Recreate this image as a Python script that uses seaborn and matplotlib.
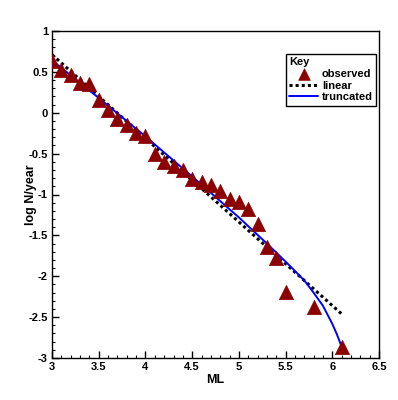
import matplotlib
matplotlib.use("Agg")
import matplotlib.pyplot as plt
import seaborn as sns
import pandas as pd
from matplotlib.ticker import MultipleLocator, FormatStrFormatter

# observed rates
obs_ml = [3.0, 3.1, 3.2, 3.3, 3.4, 3.5, 3.6, 3.7, 3.8, 3.9, 4.0, 4.1, 4.2, 4.3,
          4.4, 4.5, 4.6, 4.7, 4.8, 4.9, 5.0, 5.1, 5.2, 5.3, 5.4, 5.5, 5.8, 6.1]
obs_logn = [0.63, 0.52, 0.46, 0.37, 0.35, 0.15, 0.03, -0.08, -0.15, -0.25, -0.29,
            -0.50, -0.60, -0.65, -0.70, -0.81, -0.85, -0.88, -0.96, -1.05, -1.09,
            -1.18, -1.36, -1.64, -1.78, -2.19, -2.38, -2.86]

# linear fit endpoints
lin_ml = [3.0, 6.1]
lin_logn = [0.71, -2.46]

# truncated model curve
trunc_ml = [3.0, 3.5, 4.0, 4.5, 5.0, 5.3, 5.5, 5.7, 5.8, 5.9, 6.0, 6.05, 6.1]
trunc_logn = [0.64, 0.18, -0.29, -0.78, -1.28, -1.60, -1.82, -2.05, -2.20,
              -2.36, -2.58, -2.71, -2.86]

sns.set_style("ticks")
plt.rcParams["font.family"] = ["Liberation Sans", "DejaVu Sans"]
plt.rcParams["font.weight"] = "bold"
plt.rcParams["text.color"] = "black"
plt.rcParams["axes.labelcolor"] = "black"
plt.rcParams["xtick.color"] = "black"
plt.rcParams["ytick.color"] = "black"

fig = plt.figure(figsize=(3.98, 4.0), dpi=100)
ax = fig.add_axes([0.131, 0.105, 0.821, 0.8175])

obs = pd.DataFrame({"ML": obs_ml, "logN": obs_logn})
lin = pd.DataFrame({"ML": lin_ml, "logN": lin_logn})
trunc = pd.DataFrame({"ML": trunc_ml, "logN": trunc_logn})

sns.lineplot(data=lin, x="ML", y="logN", ax=ax, color="black", lw=2.2,
             linestyle=(0, (1, 1)), label="linear", zorder=2)
sns.lineplot(data=trunc, x="ML", y="logN", ax=ax, color="#0000ff", lw=1.4,
             label="truncated", zorder=3)
sns.scatterplot(data=obs, x="ML", y="logN", ax=ax, marker="^", s=105,
                color="#8b0000", edgecolor="#8b0000", linewidth=0.5,
                label="observed", zorder=4)

ax.set_xlim(3, 6.5)
ax.set_ylim(-3, 1)
ax.xaxis.set_major_locator(MultipleLocator(0.5))
ax.xaxis.set_minor_locator(MultipleLocator(0.1))
ax.yaxis.set_major_locator(MultipleLocator(0.5))
ax.yaxis.set_minor_locator(MultipleLocator(0.1))
ax.xaxis.set_major_formatter(FormatStrFormatter("%g"))
ax.yaxis.set_major_formatter(FormatStrFormatter("%g"))
ax.tick_params(which="major", direction="in", length=5, width=1, labelsize=8,
               bottom=True, left=True, top=False, right=False, pad=3)
ax.tick_params(which="minor", direction="in", length=2.5, width=0.8,
               bottom=True, left=True, top=False, right=False)
for sp in ax.spines.values():
    sp.set_visible(True)
    sp.set_color("black")
    sp.set_linewidth(1)

ax.set_xlabel("ML", fontsize=9, fontweight="bold", labelpad=1)
ax.set_ylabel("log N/year", fontsize=9, fontweight="bold")
ax.yaxis.set_label_coords(-0.045, 0.5)

handles, labels = ax.get_legend_handles_labels()
order = [labels.index("observed"), labels.index("linear"), labels.index("truncated")]
leg = ax.legend([handles[i] for i in order], [labels[i] for i in order],
                title="Key", loc="upper right", bbox_to_anchor=(0.992, 0.930),
                fancybox=False, edgecolor="black", framealpha=1,
                prop={"size": 8, "weight": "bold"},
                title_fontproperties={"size": 8, "weight": "bold"},
                alignment="left", handlelength=2.6, handletextpad=0.35,
                borderpad=0.3, labelspacing=0.15, borderaxespad=0)
leg.get_frame().set_linewidth(1)
leg.legend_handles[0].set_sizes([70])

fig.savefig("out.png", dpi=100)
